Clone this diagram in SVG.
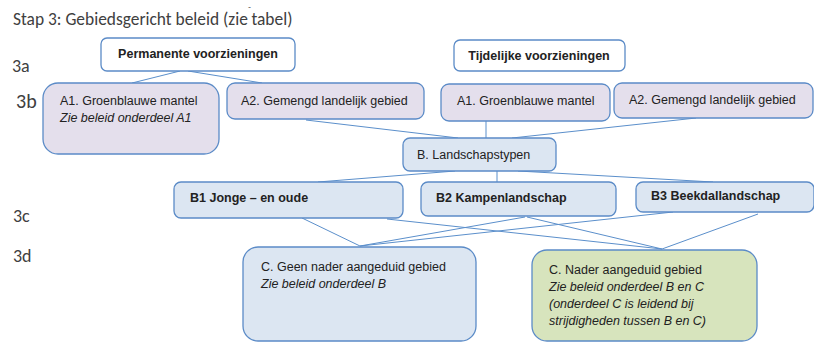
<svg xmlns="http://www.w3.org/2000/svg" width="814" height="343" viewBox="0 0 814 343">
<style>
.lbl{font-family:Calibri,Carlito,"Open Sans","Liberation Sans",sans-serif;fill:#404040}
.t{font-family:"Liberation Sans",Arial,sans-serif;font-size:12.5px;fill:#222}
.i{font-style:italic}
.b{font-weight:bold}
.box{stroke:#5b8bc7;stroke-width:1.3}
.w{fill:#ffffff}
.lav{fill:#e4dfec}
.blu{fill:#dce6f2}
.grn{fill:#d7e4bd}
.con line{stroke:#5b8fcb;stroke-width:1}
</style>
<rect width="814" height="343" fill="#ffffff"/>
<text class="lbl" x="13" y="25" font-size="17.4" fill="#505050">Stap 3: Gebiedsgericht beleid (zie<tspan font-size="9" dy="-12" dx="0">ˇ</tspan><tspan dy="12" dx="0">tabel)</tspan></text>
<text class="lbl" x="12" y="72" font-size="18">3a</text>
<text class="lbl" x="16" y="108" font-size="20">3b</text>
<text class="lbl" x="13" y="222" font-size="18">3c</text>
<text class="lbl" x="13" y="262" font-size="18">3d</text>

<g class="con">
<line x1="180" y1="71" x2="132" y2="83"/>
<line x1="188" y1="71" x2="262" y2="83"/>
<line x1="306" y1="120" x2="458" y2="138"/>
<line x1="486" y1="121" x2="486" y2="138"/>
<line x1="696" y1="118" x2="512" y2="138"/>
<line x1="455" y1="171" x2="318" y2="182"/>
<line x1="497" y1="171" x2="497" y2="182"/>
<line x1="518" y1="171" x2="713" y2="182"/>
<line x1="302" y1="218" x2="360" y2="246"/>
<line x1="387" y1="219" x2="662" y2="249"/>
<line x1="525" y1="217" x2="360" y2="246"/>
<line x1="527" y1="217" x2="662" y2="249"/>
<line x1="673" y1="212" x2="360" y2="246"/>
<line x1="758" y1="214" x2="662" y2="249"/>
</g>

<g id="permanente">
<rect class="box w" x="101" y="38" width="194" height="33" rx="6"/>
<text class="t b" x="198" y="58" text-anchor="middle">Permanente voorzieningen</text>
</g>
<g id="tijdelijke">
<rect class="box w" x="454" y="40" width="171" height="31" rx="6"/>
<text class="t b" x="539" y="60" text-anchor="middle">Tijdelijke voorzieningen</text>
</g>
<g id="a1-perm">
<rect class="box lav" x="43" y="83" width="176" height="71" rx="15"/>
<text class="t" x="60" y="105">A1. Groenblauwe mantel</text>
<text class="t i" x="60" y="122">Zie beleid onderdeel A1</text>
</g>
<g id="a2-perm">
<rect class="box lav" x="227" y="83" width="197" height="36" rx="8"/>
<text class="t" x="241" y="105">A2. Gemengd landelijk gebied</text>
</g>
<g id="a1-tijd">
<rect class="box lav" x="441" y="84" width="169" height="37" rx="8"/>
<text class="t" x="457" y="105">A1. Groenblauwe mantel</text>
</g>
<g id="a2-tijd">
<rect class="box lav" x="614" y="83" width="199" height="35" rx="8"/>
<text class="t" x="629" y="104">A2.  Gemengd landelijk gebied</text>
</g>
<g id="b-landschap">
<rect class="box blu" x="403" y="138" width="153" height="33" rx="7"/>
<text class="t" x="417" y="159">B. Landschapstypen</text>
</g>
<g id="b1">
<rect class="box blu" x="174" y="182" width="229" height="36" rx="7"/>
<text class="t b" x="190" y="202">B1 Jonge – en oude</text>
</g>
<g id="b2">
<rect class="box blu" x="421" y="182" width="195" height="34" rx="7"/>
<text class="t b" x="436" y="202">B2 Kampenlandschap</text>
</g>
<g id="b3">
<rect class="box blu" x="636" y="182" width="178" height="30" rx="7"/>
<text class="t b" x="651" y="200">B3 Beekdallandschap</text>
</g>
<g id="c-geen">
<rect class="box blu" x="243" y="247" width="233" height="94" rx="15"/>
<text class="t" x="261" y="271">C. Geen nader aangeduid gebied</text>
<text class="t i" x="261" y="288">Zie beleid onderdeel B</text>
</g>
<g id="c-nader">
<rect class="box grn" x="532" y="250" width="225" height="91" rx="15"/>
<text class="t" x="549" y="274">C. Nader aangeduid gebied</text>
<text class="t i" x="549" y="291">Zie beleid onderdeel B en C</text>
<text class="t i" x="549" y="308">(onderdeel C is leidend bij</text>
<text class="t i" x="549" y="325">strijdigheden tussen B en C)</text>
</g>
</svg>
